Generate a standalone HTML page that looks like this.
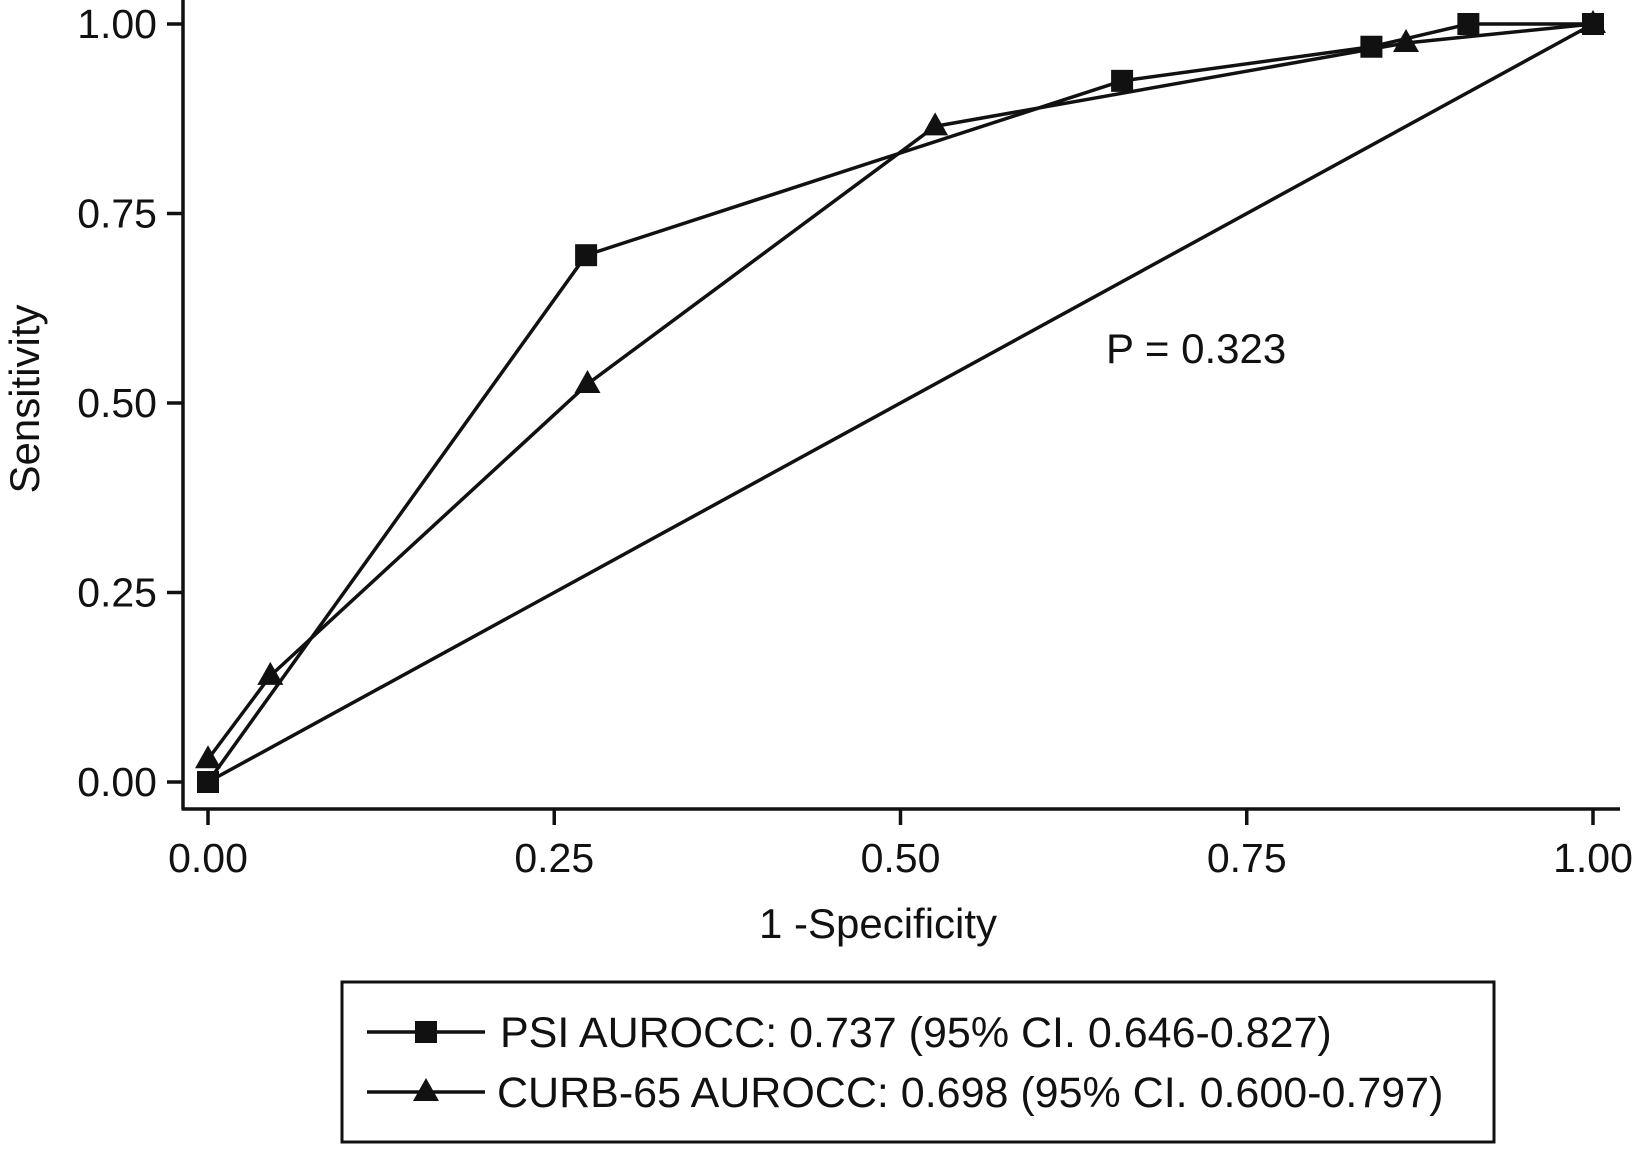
<!DOCTYPE html>
<html><head><meta charset="utf-8"><style>
body{margin:0;background:#fff}
svg text{font-family:"Liberation Sans",sans-serif;fill:#111}
</style></head><body>
<svg width="1633" height="1144" viewBox="0 0 1633 1144" xmlns="http://www.w3.org/2000/svg">
<g id="axes"></g>
<g id="plot"></g>
<text x="1106" y="363" font-size="42">P = 0.323</text>
<text x="878" y="938" font-size="42" text-anchor="middle">1 -Specificity</text>
<text transform="translate(39,399) rotate(-90)" font-size="42" text-anchor="middle">Sensitivity</text>
<rect x="342" y="982" width="1152" height="160" fill="none" stroke="#111" stroke-width="3"/>
<g>
<line x1="367" y1="1032" x2="485" y2="1032" stroke="#111" stroke-width="3.5"/>
<rect x="415" y="1021" width="22" height="22" fill="#111"/>
<text x="500" y="1047" font-size="43">PSI AUROCC: 0.737 (95% CI. 0.646-0.827)</text>
</g>
<g>
<line x1="367" y1="1092" x2="485" y2="1092" stroke="#111" stroke-width="3.5"/>
<polygon points="426,1078 439,1101 413,1101" fill="#111"/>
<text x="497" y="1107" font-size="43">CURB-65 AUROCC: 0.698 (95% CI. 0.600-0.797)</text>
</g>
</svg>
<script>
const xTicks=[0,0.25,0.5,0.75,1];
const yTicks=[0,0.25,0.5,0.75,1];
const tickLabels=["0.00","0.25","0.50","0.75","1.00"];
const psiX=[0,0.273,0.66,0.84,0.91,1];
const psiY=[0,0.695,0.925,0.97,1.0,1];
const curbX=[0,0.045,0.274,0.525,0.865,1];
const curbY=[0.03,0.14,0.525,0.865,0.975,1];
const refX=[0,1];
const refY=[0,1];
const NS="http://www.w3.org/2000/svg";
const sx=v=>208+v*(1593-208);
const sy=v=>782-v*(782-24);
function mk(tag,attrs,parent){const e=document.createElementNS(NS,tag);for(const k in attrs)e.setAttribute(k,attrs[k]);parent.appendChild(e);return e;}
const ax=document.getElementById('axes'),pl=document.getElementById('plot');
let e=mk('line',{x1:183,y1:0,x2:183,y2:809,stroke:'#111','stroke-width':3.5},ax);

e=mk('line',{x1:181.5,y1:809,x2:1620,y2:809,stroke:'#111','stroke-width':3.5},ax);

yTicks.forEach((v,i)=>{
 let t=mk('line',{x1:167,y1:sy(v),x2:183,y2:sy(v),stroke:'#111','stroke-width':3.5},ax);
 
 let l=mk('text',{x:157,y:sy(v)+14,'font-size':41,'text-anchor':'end'},ax);l.textContent=tickLabels[i];
 
});
xTicks.forEach((v,i)=>{
 let t=mk('line',{x1:sx(v),y1:809,x2:sx(v),y2:825,stroke:'#111','stroke-width':3.5},ax);
 
 let l=mk('text',{x:sx(v),y:872,'font-size':41,'text-anchor':'middle'},ax);l.textContent=tickLabels[i];
 
});
function line(xs,ys,name){
 const p=mk('polyline',{points:xs.map((x,i)=>sx(x)+','+sy(ys[i])).join(' '),fill:'none',stroke:'#111','stroke-width':3.5},pl);
 
}
line(refX,refY,'reference-diagonal');
line(psiX,psiY,'psi-line');
line(curbX,curbY,'curb65-line');
curbX.forEach((x,i)=>{const cx=sx(x),cy=sy(curbY[i]);
 const m=mk('polygon',{points:`${cx},${cy-14} ${cx+13},${cy+9} ${cx-13},${cy+9}`,fill:'#111'},pl);
 });
psiX.forEach((x,i)=>{const cx=sx(x),cy=sy(psiY[i]);
 const m=mk('rect',{x:cx-11,y:cy-11,width:22,height:22,fill:'#111'},pl);
 });
</script>
</body></html>
